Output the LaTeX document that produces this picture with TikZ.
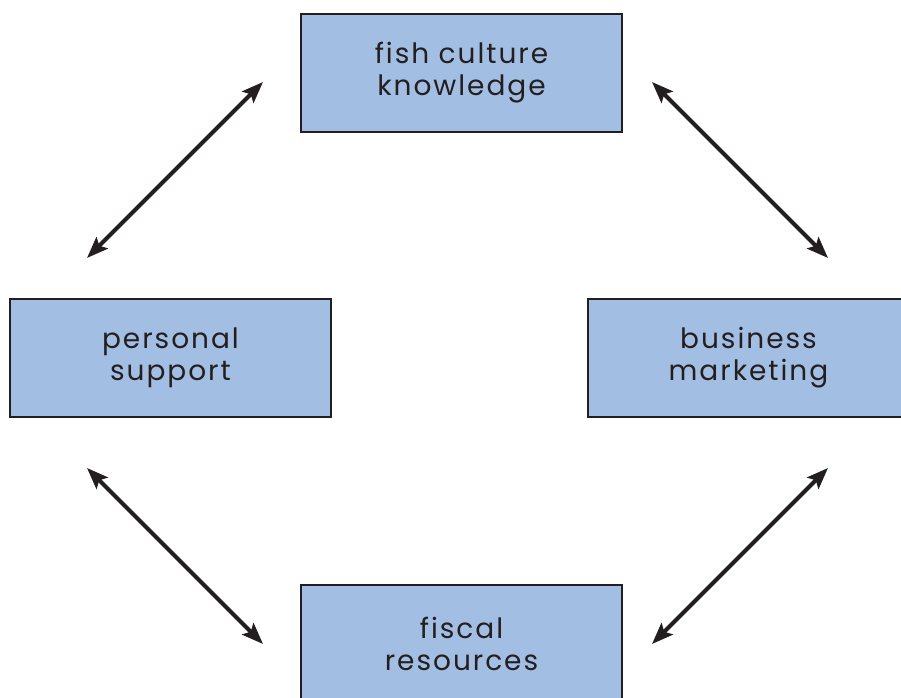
\documentclass[tikz,border=0pt]{standalone}
\usepackage{fontspec}
\setmainfont[LetterSpace=7]{Poppins}
\usetikzlibrary{arrows.meta,positioning}

\definecolor{boxblue}{RGB}{163,190,227}
\definecolor{ink}{RGB}{35,31,32}

\tikzset{
  factor/.style={draw=ink, line width=1pt, fill=boxblue, minimum width=240.75pt, minimum height=88.5pt,
    align=center, inner sep=0pt, text=ink, font=\fontsize{21}{24}\selectfont},
  link/.style={draw=ink, line width=3pt, {Stealth[length=16pt,width=12pt,inset=3pt]}-{Stealth[length=16pt,width=12pt,inset=3pt]}}
}

\begin{document}
\begin{tikzpicture}[x=0.75pt,y=0.75pt,yscale=-1,xscale=1]

\useasboundingbox (0,0) rectangle (901,698);
\clip (0,0) rectangle (901,698);

\node [factor] (knowledge) at (461.5,73) {fish culture\\knowledge};
\node [factor] (support) at (170.5,358) {personal\\support};
\node [factor] (marketing) at (748.5,358) {business\\marketing};
\node [factor] (fiscal) at (461.5,644) {fiscal\\resources};

\coordinate (tl1) at (87,258);
\coordinate (tl2) at (263,82);
\coordinate (tr1) at (652,82);
\coordinate (tr2) at (828,258);
\coordinate (bl1) at (87,468);
\coordinate (bl2) at (263,644);
\coordinate (br1) at (828,468);
\coordinate (br2) at (652,644);

\draw [link] (tl1) -- (tl2);
\draw [link] (tr1) -- (tr2);
\draw [link] (bl1) -- (bl2);
\draw [link] (br1) -- (br2);

\end{tikzpicture}
\end{document}
